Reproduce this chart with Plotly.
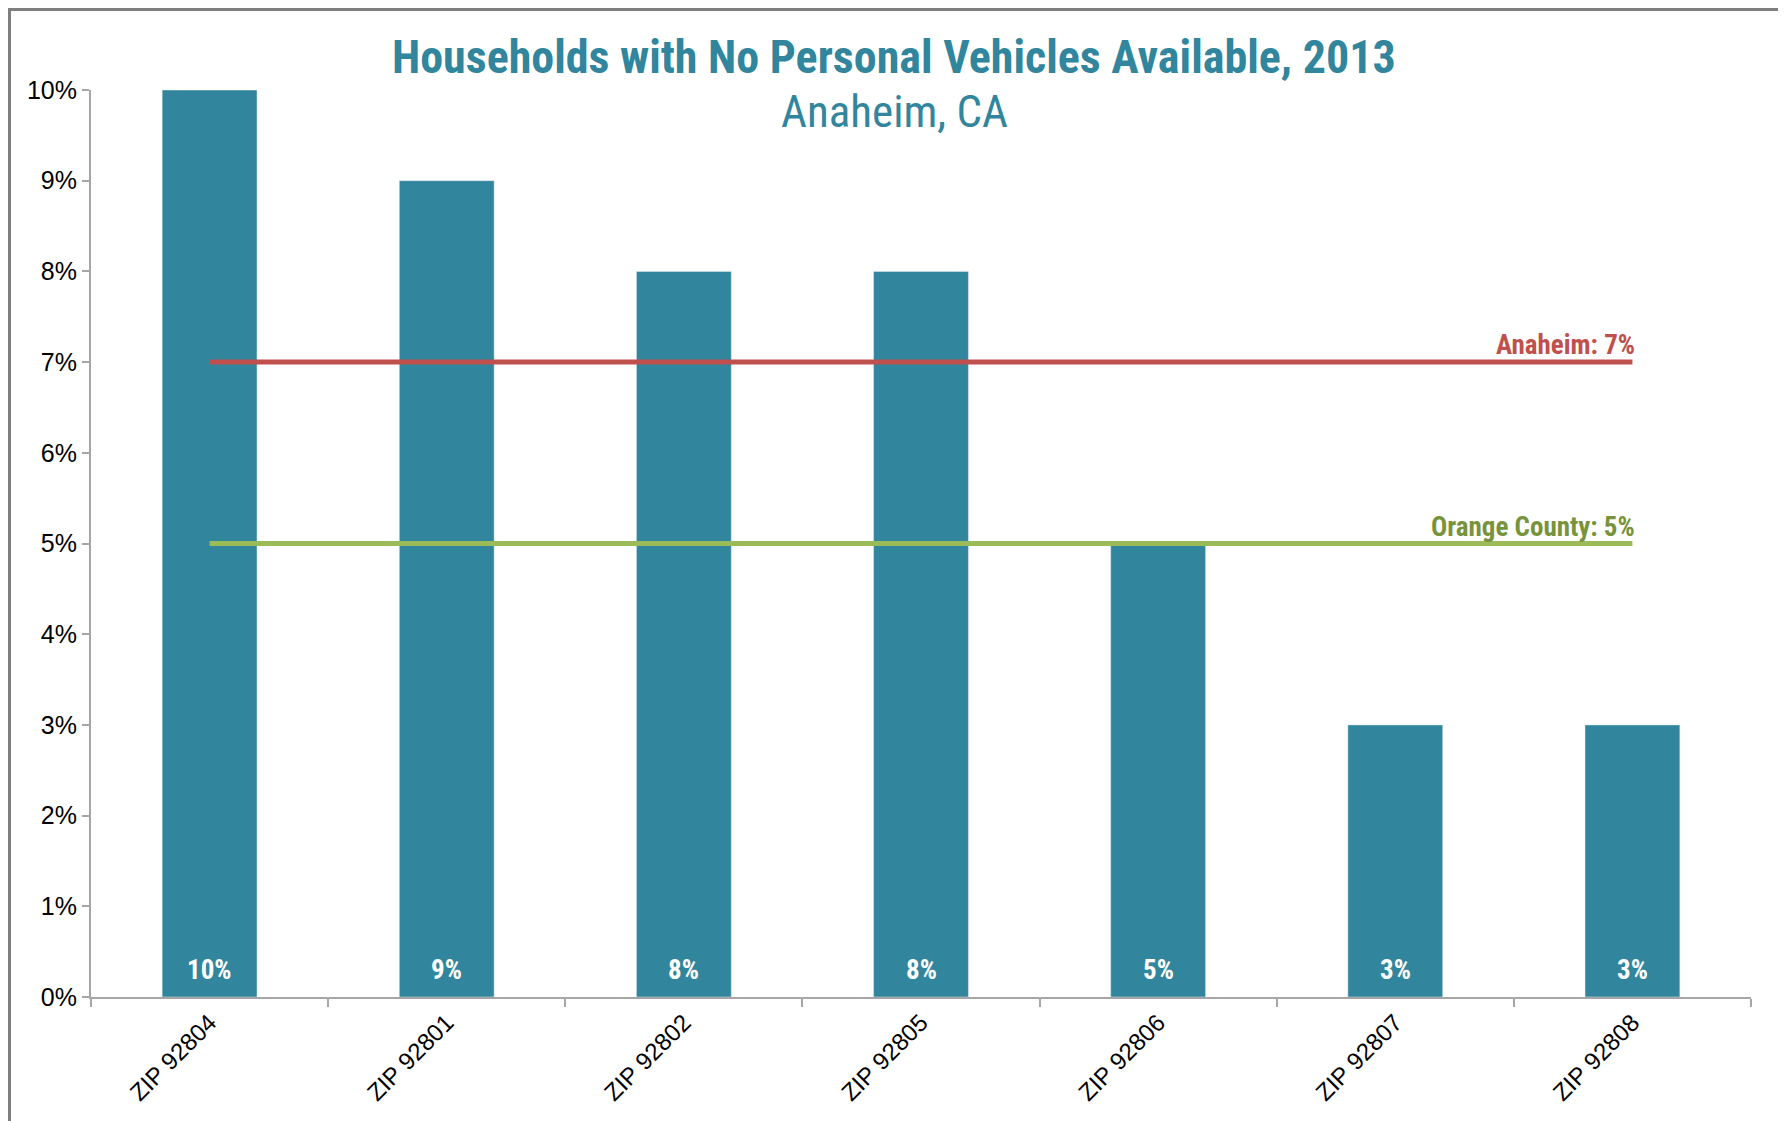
import plotly.graph_objects as go

categories = ["ZIP 92804", "ZIP 92801", "ZIP 92802", "ZIP 92805", "ZIP 92806", "ZIP 92807", "ZIP 92808"]
values = [0.10, 0.09, 0.08, 0.08, 0.05, 0.03, 0.03]
anaheim_value = 0.07
county_value = 0.05
anaheim_label = "Anaheim: 7%"
county_label = "Orange County: 5%"
title_text = "Households with No Personal Vehicles Available, 2013"
subtitle_text = "Anaheim, CA"

TEAL = "#31859C"
RED = "#C0504D"
GREEN = "#9BBB59"
NARROW = "Liberation Sans Narrow, Arial Narrow, Roboto Condensed, sans-serif"
SANS = "Liberation Sans, Arial, sans-serif"

# page body has an 8px margin, so the figure sits at (8, 8) in the window
OFF = 8
W, H = 1786 - OFF, 1121 - OFF
L, R, T, B = 91 - OFF, 35, 90 - OFF, 124
pw = W - L - R
ph = H - T - B


def py(win_y):
    """window y pixel -> paper y"""
    return (H - B - (win_y - OFF)) / ph


def px(win_x):
    return ((win_x - OFF) - L) / pw


fig = go.Figure()
fig.add_trace(go.Bar(
    x=categories, y=values, marker_color=TEAL, width=0.4,
    showlegend=False, hoverinfo="skip"))

fig.add_trace(go.Scatter(
    x=[categories[0], categories[-1]], y=[anaheim_value, anaheim_value],
    mode="lines", line=dict(color=RED, width=5), showlegend=False, hoverinfo="skip"))
fig.add_trace(go.Scatter(
    x=[categories[0], categories[-1]], y=[county_value, county_value],
    mode="lines", line=dict(color=GREEN, width=5), showlegend=False, hoverinfo="skip"))

# value labels at the foot of each bar
for c, v in zip(categories, values):
    fig.add_annotation(x=c, y=0, text="<b>%d%%</b>" % round(v * 100), showarrow=False,
                       xanchor="center", yanchor="middle", yshift=27,
                       font=dict(family=NARROW, size=27, color="white"))

fig.add_annotation(x=categories[-1], y=anaheim_value, text="<b>" + anaheim_label + "</b>",
                   showarrow=False, xanchor="right", yanchor="bottom", xshift=5, yshift=-1,
                   font=dict(family=NARROW, size=27, color=RED))
fig.add_annotation(x=categories[-1], y=county_value, text="<b>" + county_label + "</b>",
                   showarrow=False, xanchor="right", yanchor="bottom", xshift=5, yshift=-1,
                   font=dict(family=NARROW, size=27, color="#77933C"))

# title and subtitle
fig.add_annotation(xref="paper", yref="paper", x=px(894), y=py(57),
                   text="<b>" + title_text + "</b>", showarrow=False,
                   xanchor="center", yanchor="middle",
                   font=dict(family=NARROW, size=46, color=TEAL))
fig.add_annotation(xref="paper", yref="paper", x=px(894), y=py(111),
                   text=subtitle_text, showarrow=False,
                   xanchor="center", yanchor="middle",
                   font=dict(family=NARROW, size=45, color=TEAL))

# outer frame
fig.add_shape(type="rect", xref="paper", yref="paper",
              x0=px(9.5), x1=px(1783),
              y0=py(1135), y1=py(9.5),
              line=dict(color="#7F7F7F", width=3), fillcolor="rgba(0,0,0,0)", layer="below")

fig.update_layout(
    width=W, height=H, margin=dict(l=L, r=R, t=T, b=B),
    paper_bgcolor="white", plot_bgcolor="white",
    xaxis=dict(type="category", showline=True, linecolor="#A6A6A6", linewidth=2,
               ticks="outside", ticklen=8, tickcolor="#A6A6A6", tickwidth=1.5,
               tickson="boundaries", tickangle=-45, showgrid=False,
               tickfont=dict(family=SANS, size=24, color="black")),
    yaxis=dict(range=[0, 0.10], dtick=0.01, tickformat=".0%", showline=True,
               linecolor="#A6A6A6", linewidth=2, ticks="outside", ticklen=7,
               tickcolor="#A6A6A6", tickwidth=1.5, showgrid=False, zeroline=False,
               tickfont=dict(family=SANS, size=25, color="black")),
)

fig.write_html("out.html")
